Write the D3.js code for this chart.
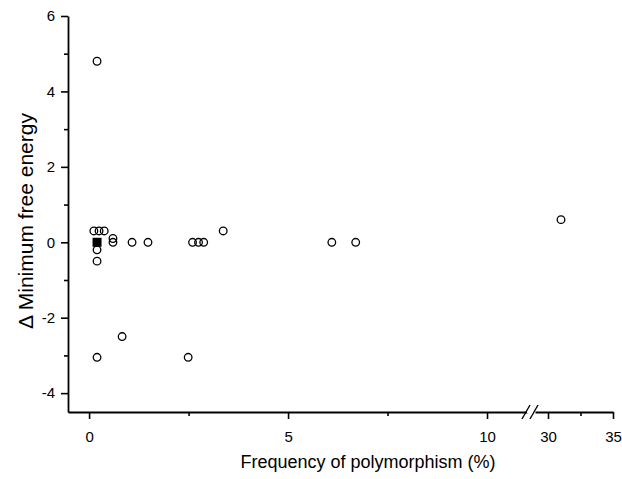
<!DOCTYPE html>
<html>
<head>
<meta charset="utf-8">
<script src="https://cdn.jsdelivr.net/npm/d3@7"></script>
<style>
  body { margin: 0; background: #fff; }
  svg { font-family: "Liberation Sans", Arial, sans-serif; }
</style>
</head>
<body>
<svg id="chart" width="622" height="479"></svg>
<script>
// frequency (%) and delta MFE for open circles
const freqs = [0.2, 0.12, 0.25, 0.38, 0.2, 0.2, 0.6, 0.6, 1.08, 1.48, 2.6, 2.75, 2.88, 3.37, 6.1, 6.7, 31.0, 0.2, 0.83, 2.49];
const dMfe  = [4.8, 0.3, 0.3, 0.3, -0.2, -0.5, 0.1, 0.0, 0.0, 0.0, 0.0, 0.0, 0.0, 0.3, 0.0, 0.0, 0.6, -3.05, -2.5, -3.05];
// filled square
const sqFreq = [0.2];
const sqMfe = [0.0];

const yTicks = [-4, -2, 0, 2, 4, 6];
const yMinor = [-3, -1, 1, 3, 5];
const xTicksLeft = [0, 5, 10];
const xMinorLeft = [2.5, 7.5];
const xTicksRight = [30, 35];
const xMinorRight = [32.5];

const svg = d3.select("#chart");
const axisY = 412;
const fmt = d => String(d); // keeps a plain hyphen for negatives

const y = d3.scaleLinear().domain([-4.5, 6]).range([axisY, 16]);
const xL = d3.scaleLinear().domain([-0.53, 11.03]).range([68, 528]);
const xR = d3.scaleLinear().domain([29, 35]).range([535, 613]);
const x = v => v > 20 ? xR(v) : xL(v);

// y axis
const gy = svg.append("g").attr("transform", "translate(68,0)");
gy.call(d3.axisLeft(y).tickValues(yTicks).tickSize(7).tickSizeOuter(0).tickFormat(fmt));
gy.append("g").call(d3.axisLeft(y).tickValues(yMinor).tickSize(4).tickFormat(""))
  .select(".domain").remove();

// x axis, left part
const gxL = svg.append("g").attr("transform", `translate(0,${axisY})`);
gxL.call(d3.axisBottom(xL).tickValues(xTicksLeft).tickSize(7).tickSizeOuter(0).tickFormat(fmt));
gxL.append("g").call(d3.axisBottom(xL).tickValues(xMinorLeft).tickSize(4).tickFormat(""))
  .select(".domain").remove();

// x axis, right part
const gxR = svg.append("g").attr("transform", `translate(0,${axisY})`);
gxR.call(d3.axisBottom(xR).tickValues(xTicksRight).tickSize(7).tickSizeOuter(0).tickFormat(fmt));
gxR.append("g").call(d3.axisBottom(xR).tickValues(xMinorRight).tickSize(4).tickFormat(""))
  .select(".domain").remove();

svg.selectAll(".domain").attr("stroke-width", 1.8);
svg.selectAll(".tick line").attr("stroke-width", 1.6);
svg.selectAll(".tick text").attr("font-size", 15).attr("fill", "#000");
gy.selectAll(".tick text").attr("x", -13);
gxL.selectAll(".tick text").attr("y", 19);
gxR.selectAll(".tick text").attr("y", 19);

// white gap between break marks
svg.append("line").attr("x1", 527).attr("x2", 534).attr("y1", axisY).attr("y2", axisY)
  .attr("stroke", "#fff").attr("stroke-width", 3);
[[522, 530], [530, 538]].forEach(([a, b]) => {
  svg.append("line")
    .attr("x1", a).attr("y1", axisY + 7).attr("x2", b).attr("y2", axisY - 7)
    .attr("stroke", "#000").attr("stroke-width", 1.4);
});

// points
svg.append("g").selectAll("circle")
  .data(freqs.map((f, i) => [f, dMfe[i]]))
  .join("circle")
  .attr("cx", d => x(d[0]))
  .attr("cy", d => y(d[1]))
  .attr("r", 3.8)
  .attr("fill", "none")
  .attr("stroke", "#000")
  .attr("stroke-width", 1.3);

svg.append("g").selectAll("rect")
  .data(sqFreq.map((f, i) => [f, sqMfe[i]]))
  .join("rect")
  .attr("x", d => x(d[0]) - 4.5)
  .attr("y", d => y(d[1]) - 4.5)
  .attr("width", 9)
  .attr("height", 9)
  .attr("fill", "#000");

// labels
svg.append("text")
  .attr("x", 368).attr("y", 468)
  .attr("text-anchor", "middle")
  .attr("font-size", 18)
  .attr("fill", "#000")
  .text("Frequency of polymorphism (%)");

svg.append("text")
  .attr("transform", "translate(33,221) rotate(-90)")
  .attr("text-anchor", "middle")
  .attr("font-size", 21)
  .attr("fill", "#000")
  .text("Δ Minimum free energy");
</script>
</body>
</html>
